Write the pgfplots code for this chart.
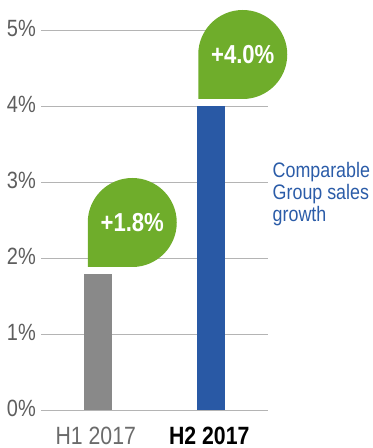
\documentclass[border=0pt]{standalone}
\usepackage{fontspec}
\setmainfont{Liberation Sans}[FakeStretch=0.85]
\usepackage{pgfplots}
\pgfplotsset{compat=1.18}
\definecolor{barblue}{HTML}{2959A5}
\definecolor{bargray}{HTML}{898989}
\definecolor{bubgreen}{HTML}{6FAD2B}
\definecolor{ticgray}{HTML}{5E5E5E}
\definecolor{labgray}{HTML}{6B6B6B}
\definecolor{gridgray}{HTML}{B4B4B4}
\definecolor{txtblue}{HTML}{2B5CA8}
\begin{document}
\begin{tikzpicture}
\begin{axis}[
  name=ax,
  scale only axis, width=227pt, height=380pt,
  xmin=-0.5, xmax=1.5, ymin=0, ymax=5,
  ytick={0,1,2,3,4,5},
  yticklabel={\pgfmathprintnumber{\tick}\%},
  /pgf/number format/assume math mode=true,
  xtick={0,1},
  xticklabels={\textcolor{labgray}{H1 2017}, \textcolor{black}{\bfseries H2 2017}},
  ymajorgrids, grid style={gridgray, line width=1pt},
  axis line style={draw=none},
  major tick length=0pt,
  yticklabel style={font=\fontsize{23.5}{24}\selectfont, text=ticgray, inner sep=0pt, xshift=-5pt, yshift=2pt},
  xticklabel style={font=\fontsize{25}{26}\selectfont, inner sep=0pt, anchor=north, yshift=-16pt, xshift=-2pt},
  clip=false,
  ybar, bar width=28pt,
]
\addplot[fill=bargray, draw=none, bar shift=0pt] coordinates {(0,1.8)};
\addplot[fill=barblue, draw=none, bar shift=0pt] coordinates {(1,4.0)};
\coordinate (t1) at (axis cs:0,1.8);
\coordinate (t2) at (axis cs:1,4.0);
\coordinate (tx) at (axis cs:1.54,3.27);
\end{axis}
\fill[bubgreen] ([xshift=-10pt,yshift=6.7pt]t1) -- ++(0pt,44.5pt) arc[start angle=180,end angle=-90,radius=44.5pt] -- cycle;
\node[text=white, font=\bfseries\fontsize{26}{26}\selectfont] at ([xshift=34.5pt,yshift=51.2pt]t1) {+1.8\%};
\fill[bubgreen] ([xshift=-13pt,yshift=7.5pt]t2) -- ++(0pt,44.5pt) arc[start angle=180,end angle=-90,radius=44.5pt] -- cycle;
\node[text=white, font=\bfseries\fontsize{26}{26}\selectfont] at ([xshift=31.5pt,yshift=52pt]t2) {+4.0\%};
\node[anchor=north west, align=left, text=txtblue, font=\fontsize{21}{22}\selectfont, inner sep=0pt] at (tx) {Comparable\\Group sales\\growth};
\pgfresetboundingbox
\path ([shift={(-41pt,-37.5pt)}]ax.south west) rectangle ([shift={(104pt,30.5pt)}]ax.north east);
\end{tikzpicture}
\end{document}
